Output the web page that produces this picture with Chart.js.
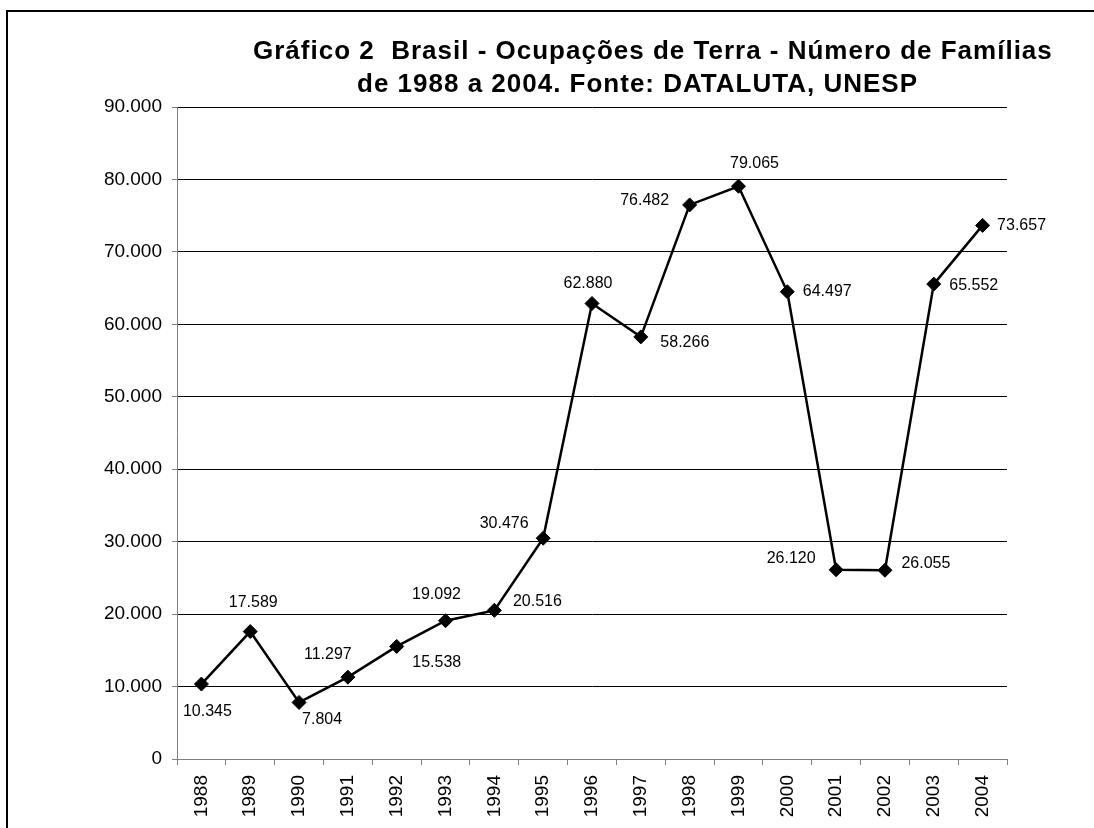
<!DOCTYPE html>
<html>
<head>
<meta charset="utf-8">
<script src="https://cdn.jsdelivr.net/npm/chart.js@4/dist/chart.umd.min.js"></script>
<style>
  html, body { margin: 0; padding: 0; background: #fff; }
  canvas { display: block; }
</style>
</head>
<body>
<canvas id="ocupacoesChart" width="1094" height="828"></canvas>
<script>
// data
const years = ['1988', '1989', '1990', '1991', '1992', '1993', '1994', '1995', '1996',
               '1997', '1998', '1999', '2000', '2001', '2002', '2003', '2004'];
const familias = [10345, 17589, 7804, 11297, 15538, 19092, 20516, 30476, 62880,
                  58266, 76482, 79065, 64497, 26120, 26055, 65552, 73657];
const titleLines = ['Gráfico 2  Brasil - Ocupações de Terra - Número de Famílias',
                    'de 1988 a 2004. Fonte: DATALUTA, UNESP'];

// where each value label sits relative to its marker (px)
const labelOffsets = [[6, 28], [3, -29], [23, 17], [-20, -23], [40, 16], [-9, -26], [43, -9],
                      [-39, -15], [-4, -20], [44, 6], [-45, -4], [16, -23], [40, 0],
                      [-45, -11], [41, -7], [40, 1], [39, 0]];

const FONT = '"Liberation Sans", Arial, sans-serif';

function fmt(v) {
    return String(Math.round(v)).replace(/\B(?=(\d{3})+(?!\d))/g, '.');
}

const framePlugin = {
    id: 'frame',
    beforeDraw(chart) {
        const ctx = chart.ctx;
        ctx.save();
        ctx.strokeStyle = '#000';
        ctx.lineWidth = 2;
        ctx.beginPath();
        ctx.moveTo(7, 900);
        ctx.lineTo(7, 11);
        ctx.lineTo(1100, 11);
        ctx.stroke();
        // title
        ctx.fillStyle = '#000';
        ctx.font = 'bold 26px ' + FONT;
        ctx.letterSpacing = '1px';
        ctx.textAlign = 'left';
        ctx.textBaseline = 'alphabetic';
        ctx.fillText(titleLines[0], 253, 59);
        ctx.fillText(titleLines[1], 357, 92);
        ctx.restore();
    }
};

const valueLabels = {
    id: 'valueLabels',
    afterDatasetsDraw(chart) {
        const ctx = chart.ctx;
        const meta = chart.getDatasetMeta(0);
        ctx.save();
        ctx.fillStyle = '#000';
        ctx.font = '16px ' + FONT;
        ctx.textAlign = 'center';
        ctx.textBaseline = 'middle';
        meta.data.forEach((pt, i) => {
            const off = labelOffsets[i];
            ctx.fillText(fmt(familias[i]), pt.x + off[0], pt.y + off[1]);
        });
        ctx.restore();
    }
};

const ctx = document.getElementById('ocupacoesChart').getContext('2d');
new Chart(ctx, {
    type: 'line',
    data: {
        labels: years,
        datasets: [{
            label: 'Número de Famílias',
            data: familias,
            borderColor: '#000',
            borderWidth: 2.5,
            backgroundColor: '#000',
            pointStyle: 'rectRot',
            pointRadius: 7,
            pointBackgroundColor: '#000',
            pointBorderColor: '#000',
            pointBorderWidth: 1,
            tension: 0,
            fill: false
        }]
    },
    options: {
        responsive: false,
        animation: false,
        layout: {
            padding: { left: 0, top: 107, right: 87, bottom: 0 }
        },
        plugins: {
            legend: { display: false },
            tooltip: { enabled: false },
            title: { display: false }
        },
        scales: {
            x: {
                offset: true,
                grid: {
                    offset: true,
                    drawOnChartArea: false,
                    drawTicks: true,
                    tickLength: 6,
                    tickColor: '#808080'
                },
                border: { color: '#808080', width: 1 },
                ticks: {
                    color: '#000',
                    font: { family: FONT, size: 19 },
                    minRotation: 90,
                    maxRotation: 90,
                    autoSkip: false,
                    padding: 10
                },
                afterFit(scale) { scale.height = 69; }
            },
            y: {
                min: 0,
                max: 90000,
                grid: {
                    color: (c) => c.tick && c.tick.value === 0 ? '#808080' : '#000',
                    lineWidth: 1,
                    tickLength: 5,
                    tickColor: '#808080'
                },
                border: { color: '#808080', width: 1 },
                ticks: {
                    stepSize: 10000,
                    color: '#000',
                    font: { family: FONT, size: 19 },
                    padding: 10,
                    callback: (v) => fmt(v)
                },
                afterFit(scale) { scale.width = 177; }
            }
        }
    },
    plugins: [framePlugin, valueLabels]
});
</script>
</body>
</html>
